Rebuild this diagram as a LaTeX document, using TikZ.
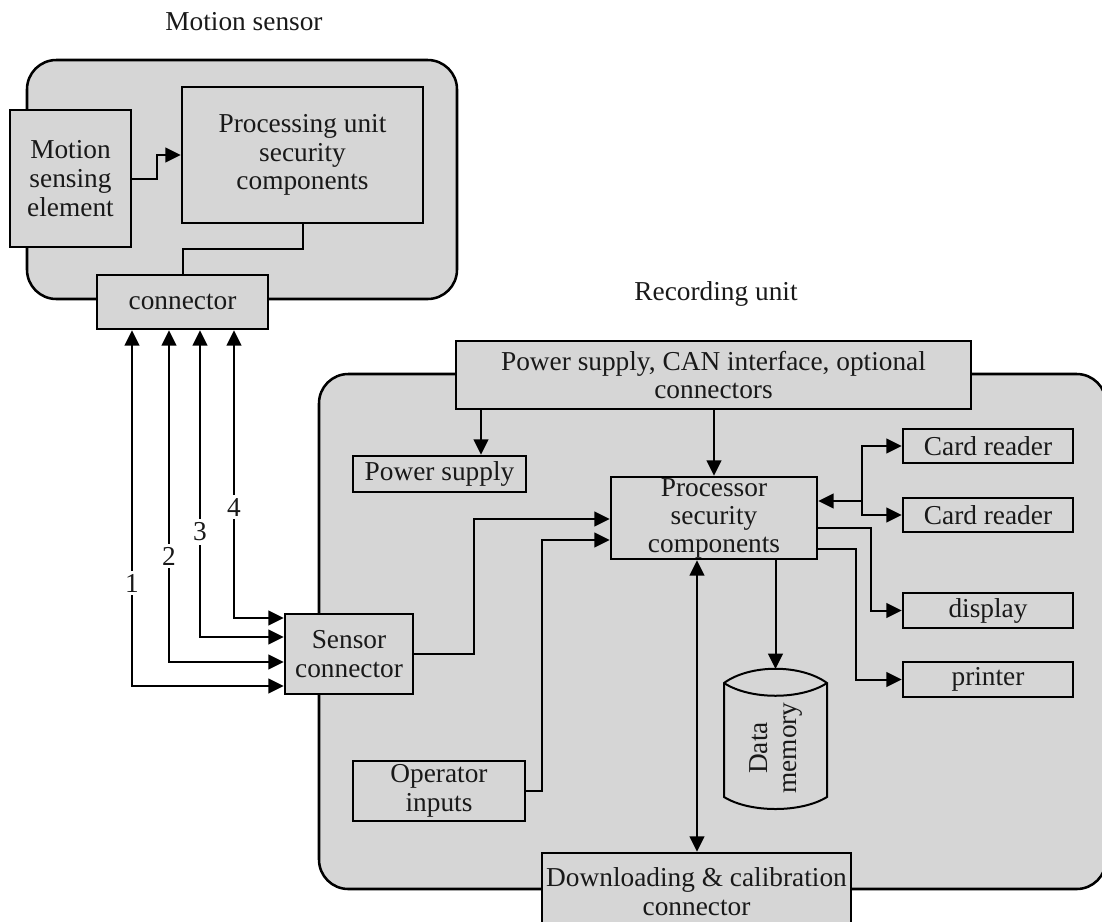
\documentclass[tikz,border=0pt]{standalone}
\usepackage{fontspec}
\setmainfont{Liberation Serif}
\usetikzlibrary{arrows.meta}
\definecolor{boxgray}{RGB}{214,214,214}
\begin{document}
\begin{tikzpicture}[x=0.75pt,y=-0.75pt,
  txt/.style={font=\fontsize{20.5}{21.6}\selectfont, text=black!90},
  box/.style={txt, draw, fill=boxgray, line width=1.9pt, inner sep=0pt, align=center},
  sz/.style 2 args={minimum width=#1*0.75pt, minimum height=#2*0.75pt},
  grp/.style={draw, fill=boxgray, line width=1.9pt, rounded corners=22pt, inner sep=0pt},
  wire/.style={line width=1.5pt},
  arr/.style={wire, -{Triangle[length=11.5pt,width=11pt]}},
  darr/.style={wire, {Triangle[length=11.5pt,width=11pt]}-{Triangle[length=11.5pt,width=11pt]}},
  numlbl/.style={txt, fill=white, inner sep=2.5pt}
]
\useasboundingbox (0,0) rectangle (1102,921);
\clip (0,0) rectangle (1102,921);

% titles
\node[txt] (mstitle) at (244,22) {Motion sensor};
\node[txt] (rutitle) at (716,294) {Recording unit};

% group backgrounds
\node[grp, sz={430}{239}] (msgroup) at (242,179.5) {};
\node[grp, sz={787}{515}] (rugroup) at (712.5,631.5) {};

% motion sensor parts
\node[box, sz={121}{137}] (mse) at (70.5,178.5) {Motion\\sensing\\element};
\node[box, sz={241}{136}] (pu) at (302.5,155) {Processing unit\\security\\components};
\node[box, sz={171}{54}] (conn) at (182.5,302) {connector};

% recording unit parts
\node[box, sz={515}{68}] (can) at (713.5,375) {Power supply, CAN interface, optional\\connectors};
\node[box, sz={173}{36}] (ps) at (439.5,474) {Power supply};
\node[box, sz={206}{82}, font=\fontsize{20.5}{21}\selectfont] (proc) at (714,518) {Processor\\security\\components};
\node[box, sz={170}{34}] (cr1) at (988,446) {Card reader};
\node[box, sz={170}{34}] (cr2) at (988,515) {Card reader};
\node[box, sz={170}{35}] (disp) at (988,610.5) {display};
\node[box, sz={170}{35}] (prn) at (988,679.5) {printer};
\node[box, sz={128}{80}] (sc) at (349,654) {Sensor\\connector};
\node[box, sz={172}{60}] (op) at (439,791) {Operator\\inputs};
\node[box, sz={309}{78}] (dl) at (696.5,892) {Downloading \& calibration\\connector};

% data memory cylinder
\draw[line width=1.5pt, fill=boxgray] (724,683) .. controls (750,664) and (801,664) .. (827,683)
  -- (827,797) .. controls (801,813) and (750,813) .. (724,797) -- cycle;
\draw[line width=1.5pt] (724,683) .. controls (750,700) and (801,700) .. (827,683);
\coordinate (dmtop) at (775.5,669);
\node[txt, rotate=90, align=center] (dmtext) at (776,748) {Data\\memory};

% motion sensor internal connectors
\draw[arr] (mse.east) -- (157,178.5) -- (157,155) -- (pu.west);
\draw[wire] (pu.south) -- (302.5,249) -- (182.5,249) -- (conn.north);

% sensor lines 1-4
\draw[darr] (conn.south -| 132,0) -- (132,686) -- (sc.west |- 0,686);
\draw[darr] (conn.south -| 169,0) -- (169,662) -- (sc.west |- 0,662);
\draw[darr] (conn.south -| 200,0) -- (200,637) -- (sc.west |- 0,637);
\draw[darr] (conn.south -| 234,0) -- (234,618) -- (sc.west |- 0,618);
\node[numlbl] (n1) at (132,583) {1};
\node[numlbl] (n2) at (169,556) {2};
\node[numlbl] (n3) at (200,532) {3};
\node[numlbl] (n4) at (234,507) {4};

% recording unit connectors
\draw[arr] (can.south -| 481,0) -- (ps.north -| 481,0);
\draw[arr] (can.south -| 714,0) -- (proc.north);
\coordinate (split) at (862,501);
\draw[arr] (split) -- (proc.east |- 0,501);
\draw[arr] (split) |- (cr1.west);
\draw[arr] (split) |- (cr2.west);
\draw[arr] (proc.east |- 0,528) -- (871,528) |- (disp.west);
\draw[arr] (proc.east |- 0,549) -- (856,549) |- (prn.west);
\draw[arr] (sc.east) -- (474,654) |- (proc.west |- 0,519);
\draw[arr] (op.east) -- (542,791) |- (proc.west |- 0,540);
\draw[arr] (proc.south -| 775.5,0) -- (dmtop);
\draw[darr] (proc.south -| 697,0) -- (dl.north -| 697,0);
\end{tikzpicture}
\end{document}
